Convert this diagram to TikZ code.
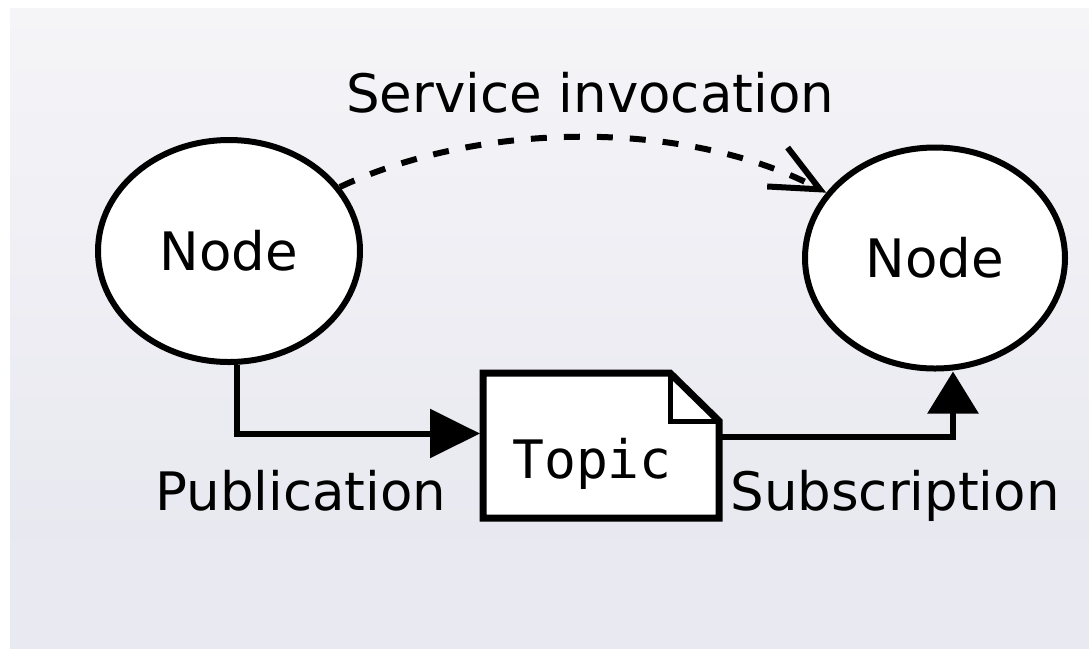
\documentclass[tikz,border=0pt]{standalone}
\usepackage{fontspec}
\setmainfont{DejaVu Sans}
\newfontfamily\topicfont{DejaVu Sans Mono}
\usetikzlibrary{arrows.meta,shapes.geometric}
\definecolor{bgtop}{HTML}{F5F5F8}
\definecolor{bgmid}{HTML}{E8E8F0}
\definecolor{bgbot}{HTML}{E9E9F2}
\begin{document}
\begin{tikzpicture}[x=1pt,y=-1pt,
  txt/.style={font=\fontsize{53pt}{60pt}\selectfont, inner sep=0pt},
  rosnode/.style={ellipse, draw, line width=6pt, fill=white, inner sep=0pt, txt},
  conn/.style={line width=6pt, line join=miter},
]
\useasboundingbox (0,0) rectangle (1089,649);
\fill[white] (0,0) rectangle (1089,649);
\shade[top color=bgtop, bottom color=bgmid] (10,8) rectangle (1089,541);
\fill[bgbot] (10,541) rectangle (1089,649);

\node[rosnode, minimum width=262pt, minimum height=222pt] (L) at (229,251) {Node};
\node[rosnode, minimum width=260pt, minimum height=221pt] (R) at (935,258) {Node};

\node[minimum width=236pt, minimum height=145pt, inner sep=0pt, outer sep=0pt] (T) at (601,445.5) {};
\draw[line width=7pt, fill=white, line join=miter]
  (T.south west) -- (T.north west) -- ([xshift=-49pt]T.north east)
  -- ([yshift=-48pt]T.north east) -- (T.south east) -- cycle;
\draw[line width=5pt]
  ([xshift=-49pt]T.north east) -- ([xshift=-49pt,yshift=-48pt]T.north east)
  -- ([yshift=-48pt]T.north east);
\node[txt, anchor=base] (TT) at (592,478) {\topicfont Topic};

\draw[conn, -{Triangle[length=50pt,width=48pt]}]
  ([xshift=8pt]L.south) |- ([xshift=-3pt,yshift=12pt]T.west);
\draw[conn, -{Triangle[length=42pt,width=50pt]}]
  ([yshift=8.5pt]T.east) -| ([xshift=18pt]R.south);
\draw[line width=6pt, dash pattern=on 16pt off 17pt,
  -{Straight Barb[length=48pt,width=44pt]}]
  (L.30) .. controls +(143,-67) and +(-139,-73) .. (R.149);

\node[txt, anchor=base] (svc) at (590,112) {Service invocation};
\node[txt, anchor=base] (pub) at (301,510) {Publication};
\node[txt, anchor=base] (sub) at (895,510) {Subscription};
\end{tikzpicture}
\end{document}
